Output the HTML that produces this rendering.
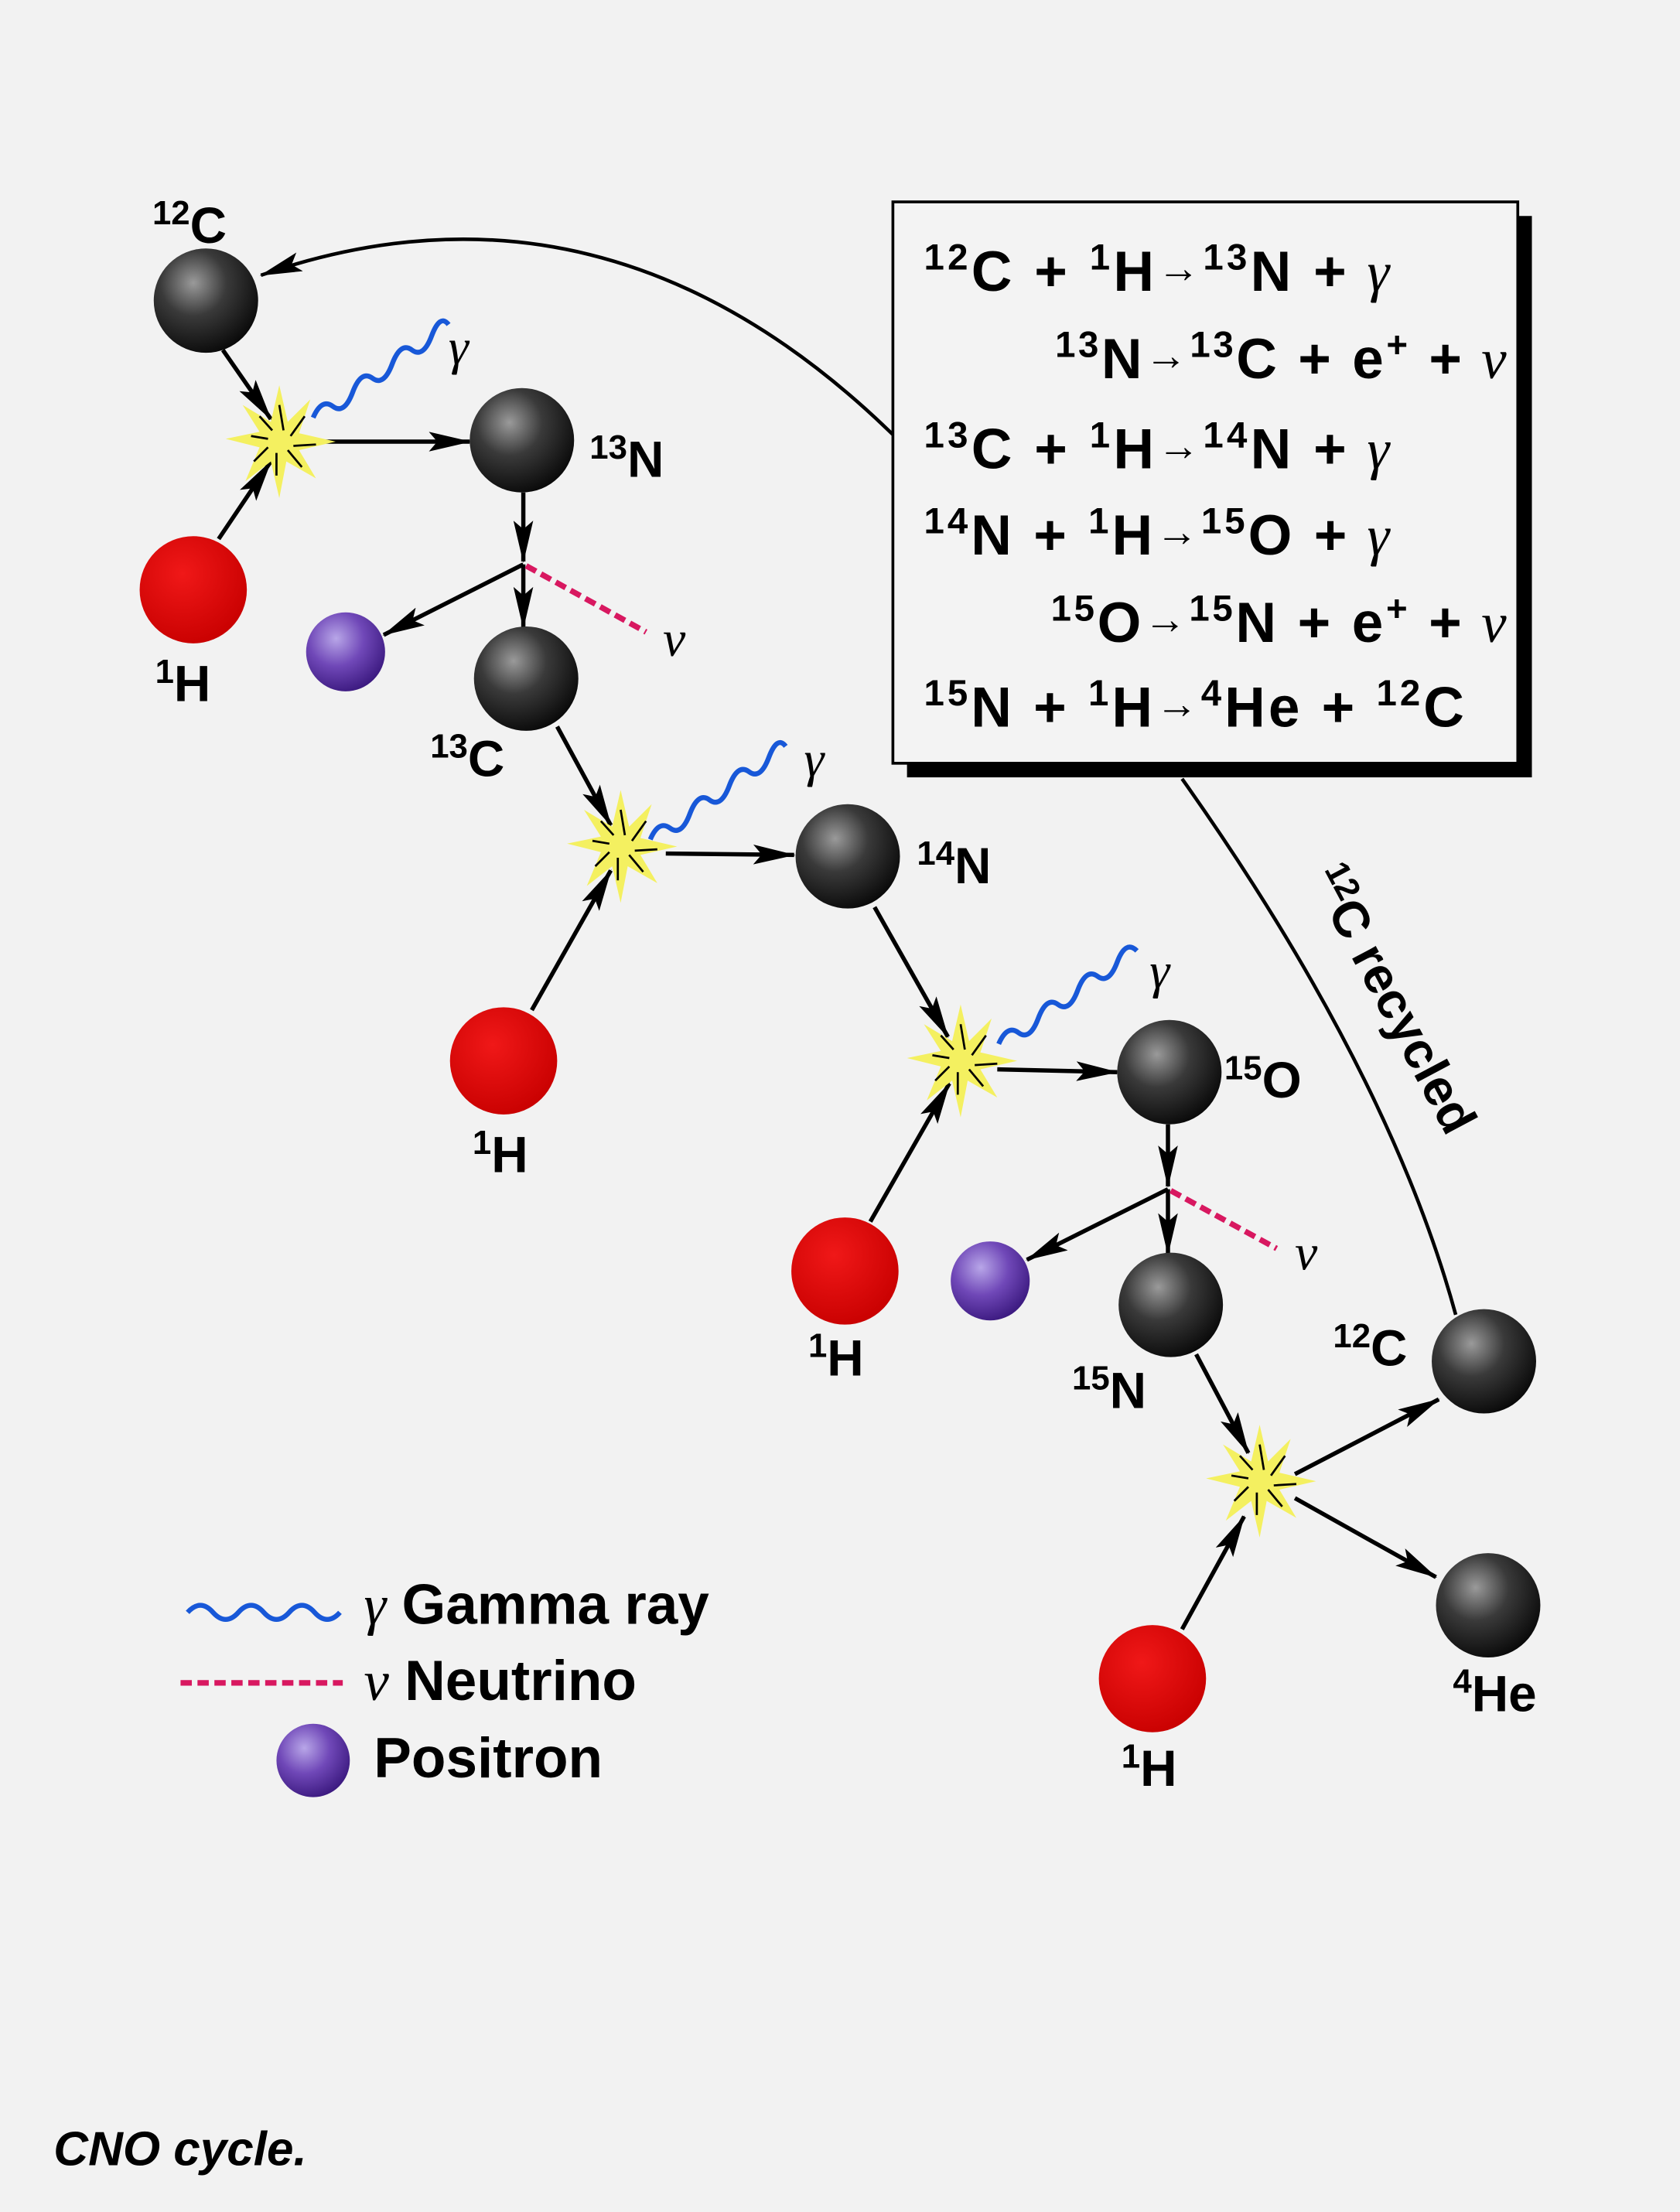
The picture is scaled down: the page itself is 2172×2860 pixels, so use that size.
<!DOCTYPE html>
<html><head><meta charset="utf-8"><style>
html,body{margin:0;padding:0;background:#f2f2f2;}
svg{display:block;}
.t{font-family:"Liberation Sans",sans-serif;font-weight:bold;fill:#000;}
.g{font-family:"Liberation Serif",serif;font-style:italic;font-weight:normal;}
</style></head><body>
<svg width="2172" height="2860" viewBox="0 0 1191 1568" xmlns="http://www.w3.org/2000/svg">
<defs>
<radialGradient id="bk" cx="0.38" cy="0.33" r="0.7"><stop offset="0" stop-color="#9a9a9a"/><stop offset="0.45" stop-color="#3a3a3a"/><stop offset="1" stop-color="#0a0a0a"/></radialGradient>
<radialGradient id="rd" cx="0.4" cy="0.35" r="0.7"><stop offset="0" stop-color="#f01818"/><stop offset="1" stop-color="#c80000"/></radialGradient>
<radialGradient id="pu" cx="0.38" cy="0.33" r="0.7"><stop offset="0" stop-color="#b8a6e8"/><stop offset="0.5" stop-color="#7048b8"/><stop offset="1" stop-color="#3c1a80"/></radialGradient>
<marker id="ah" viewBox="0 0 30 14" refX="29" refY="7" markerWidth="30" markerHeight="14" markerUnits="userSpaceOnUse" orient="auto"><path d="M0,0 L30,7 L0,14 L6,7 Z" fill="#000"/></marker>
<g id="star"><polygon points="0,-40 6,-14 22,-30 14,-6 40,0 14,6 26,26 5,14 0,40 -6,14 -24,28 -14,4 -38,-2 -14,-7 -26,-26 -6,-14" fill="#f4f060"/>
<path d="M0,-26 L3,-8 M18,-18 L8,-4 M26,2 L10,3 M16,18 L6,6 M-2,24 L-2,8 M-18,14 L-8,4 M-20,-4 L-8,-2 M-14,-18 L-5,-8" stroke="#000" stroke-width="1.5"/></g>
</defs>
<rect width="1191" height="1568" fill="#f2f2f2"/>

<path d="M633,308 Q430,110 185,195" fill="none" stroke="#000" stroke-width="2.5" marker-end="url(#ah)"/>
<path d="M838,552 Q985,760 1032,932" fill="none" stroke="#000" stroke-width="2.5"/>
<text class="t" font-size="36" transform="translate(928,622) rotate(62)"><tspan font-size="24" dy="-12">12</tspan><tspan dy="12">C recycled</tspan></text>

<rect x="643" y="153" width="443" height="398" fill="#000"/>
<rect x="633" y="143" width="443" height="398" fill="#f3f3f3" stroke="#000" stroke-width="2"/>
<g class="t" font-size="40">
<text x="655" y="206" textLength="330" lengthAdjust="spacing"><tspan font-size="26" dy="-15">12</tspan><tspan dy="15">C + </tspan><tspan font-size="26" dy="-15">1</tspan><tspan dy="15">H</tspan><tspan font-size="30" dy="-6">→</tspan><tspan font-size="26" dy="-9">13</tspan><tspan dy="15">N +</tspan><tspan class="g"> γ</tspan></text>
<text x="748" y="268" textLength="320" lengthAdjust="spacing"><tspan font-size="26" dy="-15">13</tspan><tspan dy="15">N</tspan><tspan font-size="30" dy="-6">→</tspan><tspan font-size="26" dy="-9">13</tspan><tspan dy="15">C + e</tspan><tspan font-size="26" dy="-15">+</tspan><tspan dy="15"> +</tspan><tspan class="g"> ν</tspan></text>
<text x="655" y="332" textLength="330" lengthAdjust="spacing"><tspan font-size="26" dy="-15">13</tspan><tspan dy="15">C + </tspan><tspan font-size="26" dy="-15">1</tspan><tspan dy="15">H</tspan><tspan font-size="30" dy="-6">→</tspan><tspan font-size="26" dy="-9">14</tspan><tspan dy="15">N +</tspan><tspan class="g"> γ</tspan></text>
<text x="655" y="393" textLength="330" lengthAdjust="spacing"><tspan font-size="26" dy="-15">14</tspan><tspan dy="15">N + </tspan><tspan font-size="26" dy="-15">1</tspan><tspan dy="15">H</tspan><tspan font-size="30" dy="-6">→</tspan><tspan font-size="26" dy="-9">15</tspan><tspan dy="15">O +</tspan><tspan class="g"> γ</tspan></text>
<text x="745" y="455" textLength="323" lengthAdjust="spacing"><tspan font-size="26" dy="-15">15</tspan><tspan dy="15">O</tspan><tspan font-size="30" dy="-6">→</tspan><tspan font-size="26" dy="-9">15</tspan><tspan dy="15">N + e</tspan><tspan font-size="26" dy="-15">+</tspan><tspan dy="15"> +</tspan><tspan class="g"> ν</tspan></text>
<text x="655" y="515" textLength="383" lengthAdjust="spacing"><tspan font-size="26" dy="-15">15</tspan><tspan dy="15">N + </tspan><tspan font-size="26" dy="-15">1</tspan><tspan dy="15">H</tspan><tspan font-size="30" dy="-6">→</tspan><tspan font-size="26" dy="-9">4</tspan><tspan dy="15">He + </tspan><tspan font-size="26" dy="-15">12</tspan><tspan dy="15">C</tspan></text>
</g>

<g stroke="#000" stroke-width="3" marker-end="url(#ah)">
<line x1="158" y1="248" x2="192" y2="297"/>
<line x1="155" y1="382" x2="192" y2="327"/>
<line x1="230" y1="313" x2="333" y2="313"/>
<line x1="371" y1="349" x2="371" y2="398"/>
<line x1="371" y1="400" x2="371" y2="445"/>
<line x1="371" y1="400" x2="272" y2="450"/>
<line x1="395" y1="515" x2="433" y2="585"/>
<line x1="377" y1="716" x2="433" y2="617"/>
<line x1="472" y1="605" x2="563" y2="606"/>
<line x1="620" y1="643" x2="672" y2="735"/>
<line x1="617" y1="866" x2="673" y2="768"/>
<line x1="707" y1="758" x2="792" y2="760"/>
<line x1="828" y1="797" x2="828" y2="841"/>
<line x1="828" y1="843" x2="828" y2="889"/>
<line x1="828" y1="843" x2="728" y2="893"/>
<line x1="848" y1="960" x2="885" y2="1030"/>
<line x1="838" y1="1155" x2="882" y2="1075"/>
<line x1="918" y1="1045" x2="1020" y2="992"/>
<line x1="918" y1="1062" x2="1018" y2="1118"/>
</g>

<g stroke="#d81860" stroke-width="4" stroke-dasharray="8,4">
<line x1="373" y1="401" x2="458" y2="448"/>
<line x1="830" y1="844" x2="905" y2="885"/>
<line x1="128" y1="1193" x2="243" y2="1193"/>
</g>

<use href="#star" x="198" y="313"/>
<use href="#star" x="440" y="600"/>
<use href="#star" x="681" y="752"/>
<use href="#star" x="893" y="1050"/>

<g fill="none" stroke="#1858d8" stroke-width="3.5">
<path d="M222,296 q6,-14 14,-8 t14,-10 t14,-10 t14,-10 t14,-10 t14,-10 t12,-8"/>
<path d="M461,595 q6,-14 14,-8 t14,-10 t14,-10 t14,-10 t14,-10 t14,-10 t12,-8"/>
<path d="M708,740 q6,-14 14,-8 t14,-10 t14,-10 t14,-10 t14,-10 t14,-10 t14,-8"/>
<path d="M133,1143 q9,-10 18,0 t18,0 t18,0 t18,0 t18,0 t18,0"/>
</g>
<g class="t g" font-size="36">
<text x="318" y="258">γ</text><text x="570" y="550">γ</text><text x="815" y="700">γ</text>
<text x="470" y="465">ν</text><text x="918" y="900">ν</text>
</g>

<circle cx="146" cy="213" r="37" fill="url(#bk)"/>
<circle cx="370" cy="312" r="37" fill="url(#bk)"/>
<circle cx="373" cy="481" r="37" fill="url(#bk)"/>
<circle cx="601" cy="607" r="37" fill="url(#bk)"/>
<circle cx="829" cy="760" r="37" fill="url(#bk)"/>
<circle cx="830" cy="925" r="37" fill="url(#bk)"/>
<circle cx="1052" cy="965" r="37" fill="url(#bk)"/>
<circle cx="1055" cy="1138" r="37" fill="url(#bk)"/>
<circle cx="137" cy="418" r="38" fill="url(#rd)"/>
<circle cx="357" cy="752" r="38" fill="url(#rd)"/>
<circle cx="599" cy="901" r="38" fill="url(#rd)"/>
<circle cx="817" cy="1190" r="38" fill="url(#rd)"/>
<circle cx="245" cy="462" r="28" fill="url(#pu)"/>
<circle cx="702" cy="908" r="28" fill="url(#pu)"/>
<circle cx="222" cy="1248" r="26" fill="url(#pu)"/>

<g class="t" font-size="36">
<text x="108" y="172"><tspan font-size="24" dy="-13">12</tspan><tspan dy="13">C</tspan></text>
<text x="418" y="338"><tspan font-size="24" dy="-13">13</tspan><tspan dy="13">N</tspan></text>
<text x="110" y="497"><tspan font-size="24" dy="-13">1</tspan><tspan dy="13">H</tspan></text>
<text x="305" y="550"><tspan font-size="24" dy="-13">13</tspan><tspan dy="13">C</tspan></text>
<text x="650" y="626"><tspan font-size="24" dy="-13">14</tspan><tspan dy="13">N</tspan></text>
<text x="335" y="831"><tspan font-size="24" dy="-13">1</tspan><tspan dy="13">H</tspan></text>
<text x="868" y="778"><tspan font-size="24" dy="-13">15</tspan><tspan dy="13">O</tspan></text>
<text x="573" y="975"><tspan font-size="24" dy="-13">1</tspan><tspan dy="13">H</tspan></text>
<text x="760" y="998"><tspan font-size="24" dy="-13">15</tspan><tspan dy="13">N</tspan></text>
<text x="945" y="968"><tspan font-size="24" dy="-13">12</tspan><tspan dy="13">C</tspan></text>
<text x="1030" y="1213"><tspan font-size="24" dy="-13">4</tspan><tspan dy="13">He</tspan></text>
<text x="795" y="1266"><tspan font-size="24" dy="-13">1</tspan><tspan dy="13">H</tspan></text>
</g>

<g class="t" font-size="40">
<text x="258" y="1151"><tspan class="g" font-weight="normal">γ</tspan> Gamma ray</text>
<text x="258" y="1205"><tspan class="g" font-weight="normal">ν</tspan> Neutrino</text>
<text x="265" y="1260">Positron</text>
</g>
<text class="t" x="38" y="1535" font-size="34" font-style="italic">CNO cycle.</text>
</svg>
</body></html>
